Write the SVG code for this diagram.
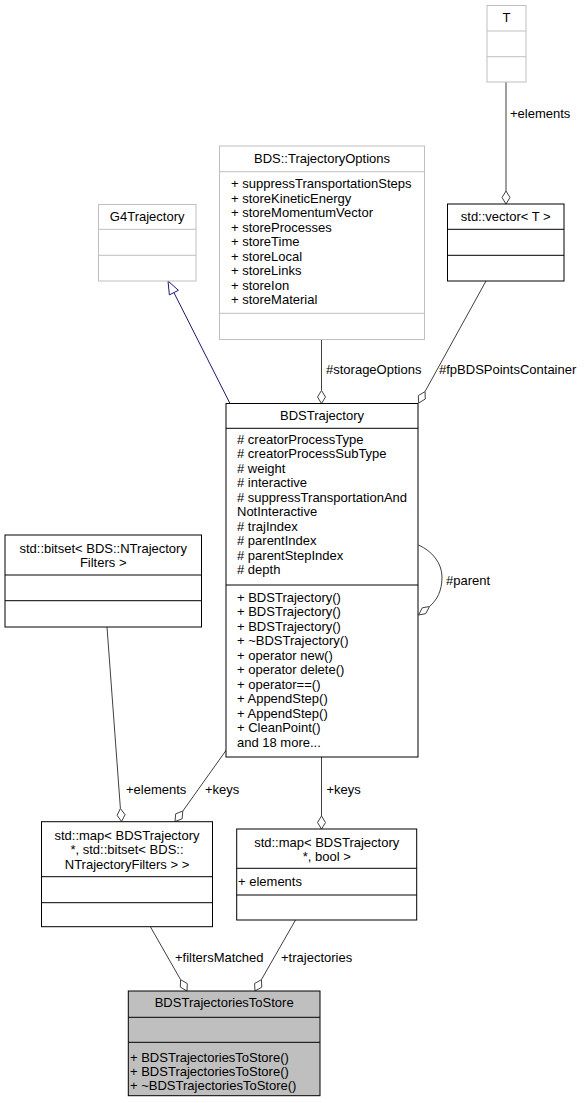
<svg xmlns="http://www.w3.org/2000/svg" width="585" height="1103" viewBox="0 0 585 1103">
<style>
text{font-family:"Liberation Sans",Arial,Helvetica,sans-serif;font-size:13px;fill:#000}
.c{text-anchor:middle}
.box{fill:#fff;stroke:#000;stroke-width:1}
.gbox{fill:#fff;stroke:#bfbfbf;stroke-width:1}
.cur{fill:#bfbfbf;stroke:#000;stroke-width:1}
.sep{stroke:#000;stroke-width:1}
.gsep{stroke:#bfbfbf;stroke-width:1}
.e{fill:none;stroke:#404040;stroke-width:1}
.dia{fill:#fff;stroke:#404040;stroke-width:1}
.inh{fill:none;stroke:#191970;stroke-width:1}
.tri{fill:#fff;stroke:#191970;stroke-width:1}
</style>
<rect width="585" height="1103" fill="#fff"/>
<g id="connectors">
<!-- T -> vector -->
<line class="e" x1="506" y1="82" x2="506" y2="191"/>
<polygon class="dia" points="506,204 502,197.5 506,191 510,197.5"/>
<text x="510" y="117.5">+elements</text>
<!-- G4Trajectory <- BDSTrajectory -->
<line class="inh" x1="230" y1="403.5" x2="173.9" y2="292.6"/>
<polygon class="tri" points="168,281 178.4,290.3 169.4,294.9"/>
<!-- TrajectoryOptions -> BDSTrajectory -->
<line class="e" x1="321.5" y1="339.5" x2="321.5" y2="390.5"/>
<polygon class="dia" points="321.5,403.5 317.5,397 321.5,390.5 325.5,397"/>
<text x="326" y="374">#storageOptions</text>
<!-- vector -> BDSTrajectory -->
<line class="e" x1="486" y1="281" x2="425" y2="391.6"/>
<polygon class="dia" points="418.7,403 418.3,395.6 425,391.6 425.3,399"/>
<text x="439" y="374">#fpBDSPointsContainer</text>
<!-- self loop parent -->
<path class="e" d="M418.5,545 C432,551 442,563 442,577 C442,591 437,600 429.5,606.5"/>
<polygon class="dia" points="418.5,615 422.3,607.8 429.5,606.5 425.7,613.7"/>
<text x="446" y="585">#parent</text>
<!-- bitset -> map1 -->
<line class="e" x1="107" y1="627" x2="120.4" y2="808.5"/>
<polygon class="dia" points="121.5,821.5 117.1,815.3 120.4,808.5 125.1,814.7"/>
<text x="126" y="794">+elements</text>
<!-- BDSTrajectory -> map1 keys -->
<line class="e" x1="227" y1="749" x2="182.8" y2="811.1"/>
<polygon class="dia" points="175,821.5 175.7,813.8 182.8,811.1 182.1,818.8"/>
<text x="205" y="794">+keys</text>
<!-- BDSTrajectory -> map2 keys -->
<line class="e" x1="321.5" y1="757" x2="321.5" y2="816"/>
<polygon class="dia" points="321.5,829 317.5,822.5 321.5,816 325.5,822.5"/>
<text x="326.5" y="794">+keys</text>
<!-- map1 -> bottom -->
<line class="e" x1="150.5" y1="927" x2="180.6" y2="979.7"/>
<polygon class="dia" points="187,991 180.3,987.1 180.6,979.7 187.3,983.6"/>
<text x="175" y="961.5">+filtersMatched</text>
<!-- map2 -> bottom -->
<line class="e" x1="295.5" y1="920" x2="261.4" y2="979.7"/>
<polygon class="dia" points="255,991 254.6,983.5 261.4,979.7 261.8,987.2"/>
<text x="281" y="961.5">+trajectories</text>
</g>
<g id="node-T">
<rect class="gbox" x="487" y="5.5" width="39" height="76.5"/>
<line class="gsep" x1="487" y1="31" x2="526" y2="31"/>
<line class="gsep" x1="487" y1="56.7" x2="526" y2="56.7"/>
<text class="c" x="506.5" y="21.5">T</text>
</g>
<g id="node-vector">
<rect class="box" x="447.5" y="204" width="116.5" height="77"/>
<line class="sep" x1="447.5" y1="229.3" x2="564" y2="229.3"/>
<line class="sep" x1="447.5" y1="255.3" x2="564" y2="255.3"/>
<text class="c" x="505.7" y="221">std::vector&lt; T &gt;</text>
</g>
<g id="node-G4Trajectory">
<rect class="gbox" x="98.5" y="204.5" width="97.5" height="76.5"/>
<line class="gsep" x1="98.5" y1="229.3" x2="196" y2="229.3"/>
<line class="gsep" x1="98.5" y1="255.3" x2="196" y2="255.3"/>
<text class="c" x="147.2" y="221">G4Trajectory</text>
</g>
<g id="node-TrajectoryOptions">
<rect class="gbox" x="219.5" y="146" width="205" height="193.5"/>
<line class="gsep" x1="219.5" y1="171.7" x2="424.5" y2="171.7"/>
<line class="gsep" x1="219.5" y1="313.3" x2="424.5" y2="313.3"/>
<text class="c" x="322" y="163">BDS::TrajectoryOptions</text>
<text x="231" y="188">+ suppressTransportationSteps</text>
<text x="231" y="202.5">+ storeKineticEnergy</text>
<text x="231" y="217">+ storeMomentumVector</text>
<text x="231" y="231.5">+ storeProcesses</text>
<text x="231" y="246">+ storeTime</text>
<text x="231" y="260.5">+ storeLocal</text>
<text x="231" y="275">+ storeLinks</text>
<text x="231" y="289.5">+ storeIon</text>
<text x="231" y="304">+ storeMaterial</text>
</g>
<g id="node-BDSTrajectory">
<rect class="box" x="226" y="403.5" width="192" height="353.5"/>
<line class="sep" x1="226" y1="428.3" x2="418" y2="428.3"/>
<line class="sep" x1="226" y1="585" x2="418" y2="585"/>
<text class="c" x="322" y="420">BDSTrajectory</text>
<text x="237" y="443.5"># creatorProcessType</text>
<text x="237" y="458"># creatorProcessSubType</text>
<text x="237" y="472.5"># weight</text>
<text x="237" y="487"># interactive</text>
<text x="237" y="501.5"># suppressTransportationAnd</text>
<text x="237" y="516">NotInteractive</text>
<text x="237" y="530.5"># trajIndex</text>
<text x="237" y="545"># parentIndex</text>
<text x="237" y="559.5"># parentStepIndex</text>
<text x="237" y="574"># depth</text>
<text x="237" y="601.5">+ BDSTrajectory()</text>
<text x="237" y="616">+ BDSTrajectory()</text>
<text x="237" y="630.5">+ BDSTrajectory()</text>
<text x="237" y="645">+ ~BDSTrajectory()</text>
<text x="237" y="659.5">+ operator new()</text>
<text x="237" y="674">+ operator delete()</text>
<text x="237" y="688.5">+ operator==()</text>
<text x="237" y="703">+ AppendStep()</text>
<text x="237" y="717.5">+ AppendStep()</text>
<text x="237" y="732">+ CleanPoint()</text>
<text x="237" y="746.5">and 18 more...</text>
</g>
<g id="node-bitset">
<rect class="box" x="5" y="535" width="196.5" height="92"/>
<line class="sep" x1="5" y1="575" x2="201.5" y2="575"/>
<line class="sep" x1="5" y1="600.7" x2="201.5" y2="600.7"/>
<text class="c" x="103.2" y="553">std::bitset&lt; BDS::NTrajectory</text>
<text class="c" x="103.2" y="567">Filters &gt;</text>
</g>
<g id="node-map1">
<rect class="box" x="41.5" y="821.7" width="171" height="105"/>
<line class="sep" x1="41.5" y1="876.7" x2="212.5" y2="876.7"/>
<line class="sep" x1="41.5" y1="902.7" x2="212.5" y2="902.7"/>
<text class="c" x="127" y="840">std::map&lt; BDSTrajectory</text>
<text class="c" x="127" y="854">*, std::bitset&lt; BDS::</text>
<text class="c" x="127" y="868.5">NTrajectoryFilters &gt; &gt;</text>
</g>
<g id="node-map2">
<rect class="box" x="236.7" y="829" width="180" height="91"/>
<line class="sep" x1="236.7" y1="868.3" x2="416.7" y2="868.3"/>
<line class="sep" x1="236.7" y1="895" x2="416.7" y2="895"/>
<text class="c" x="326.7" y="846.5">std::map&lt; BDSTrajectory</text>
<text class="c" x="326.7" y="860.5">*, bool &gt;</text>
<text x="238" y="885.5">+ elements</text>
</g>
<g id="node-BDSTrajectoriesToStore">
<rect class="cur" x="128.3" y="991" width="191.7" height="104.7"/>
<line class="sep" x1="128.3" y1="1017.3" x2="320" y2="1017.3"/>
<line class="sep" x1="128.3" y1="1042.3" x2="320" y2="1042.3"/>
<text class="c" x="224.2" y="1006.5">BDSTrajectoriesToStore</text>
<text x="130" y="1061.5">+ BDSTrajectoriesToStore()</text>
<text x="130" y="1075.5">+ BDSTrajectoriesToStore()</text>
<text x="130" y="1089.5">+ ~BDSTrajectoriesToStore()</text>
</g>
</svg>
